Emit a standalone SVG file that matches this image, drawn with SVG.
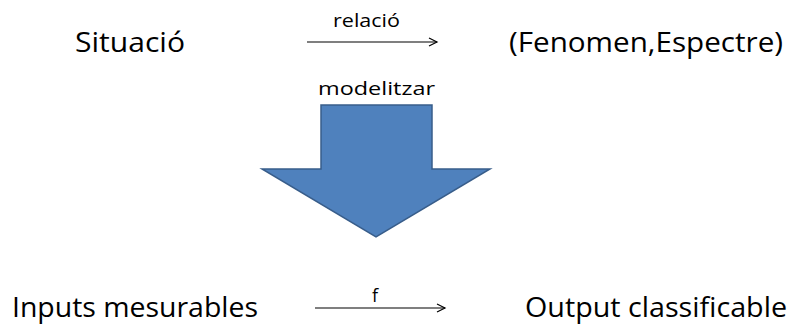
<svg xmlns="http://www.w3.org/2000/svg" width="796" height="328" viewBox="0 0 796 328">
<style>
.big{font-family:"Open Sans","Liberation Sans",sans-serif;font-size:28px;fill:#000}
.small{font-family:"Open Sans","Liberation Sans",sans-serif;font-size:18px;fill:#000}
.conn{stroke:#000;stroke-width:1.2;fill:none}
</style>
<defs>
<marker id="chev" markerWidth="12" markerHeight="12" refX="9" refY="5" orient="auto" markerUnits="userSpaceOnUse">
<polyline points="1,1 9,5 1,9" fill="none" stroke="#000" stroke-width="1.2"/>
</marker>
</defs>
<g id="situacio"><text class="big" x="75" y="52" textLength="110" lengthAdjust="spacingAndGlyphs">Situació</text></g>
<g id="fenomen"><text class="big" x="509" y="52" textLength="274" lengthAdjust="spacingAndGlyphs">(Fenomen,Espectre)</text></g>
<g id="inputs"><text class="big" x="12" y="317" textLength="246" lengthAdjust="spacingAndGlyphs">Inputs mesurables</text></g>
<g id="output"><text class="big" x="525" y="317" textLength="262" lengthAdjust="spacingAndGlyphs">Output classificable</text></g>
<g id="modelitzar">
<polygon points="321,105 432,105 432,169 490,169 376,237 262,169 321,169" fill="#4F81BD" stroke="#385D8A" stroke-width="1.5"/>
<text class="small" x="318" y="95" textLength="117" lengthAdjust="spacingAndGlyphs">modelitzar</text>
</g>
<g id="connectors">
<line class="conn" x1="307" y1="42" x2="437" y2="42" marker-end="url(#chev)"/>
<text class="small" x="333" y="27" textLength="67" lengthAdjust="spacingAndGlyphs">relació</text>
<line class="conn" x1="315" y1="308" x2="445" y2="308" marker-end="url(#chev)"/>
<text class="small" x="372" y="302">f</text>
</g>
</svg>
